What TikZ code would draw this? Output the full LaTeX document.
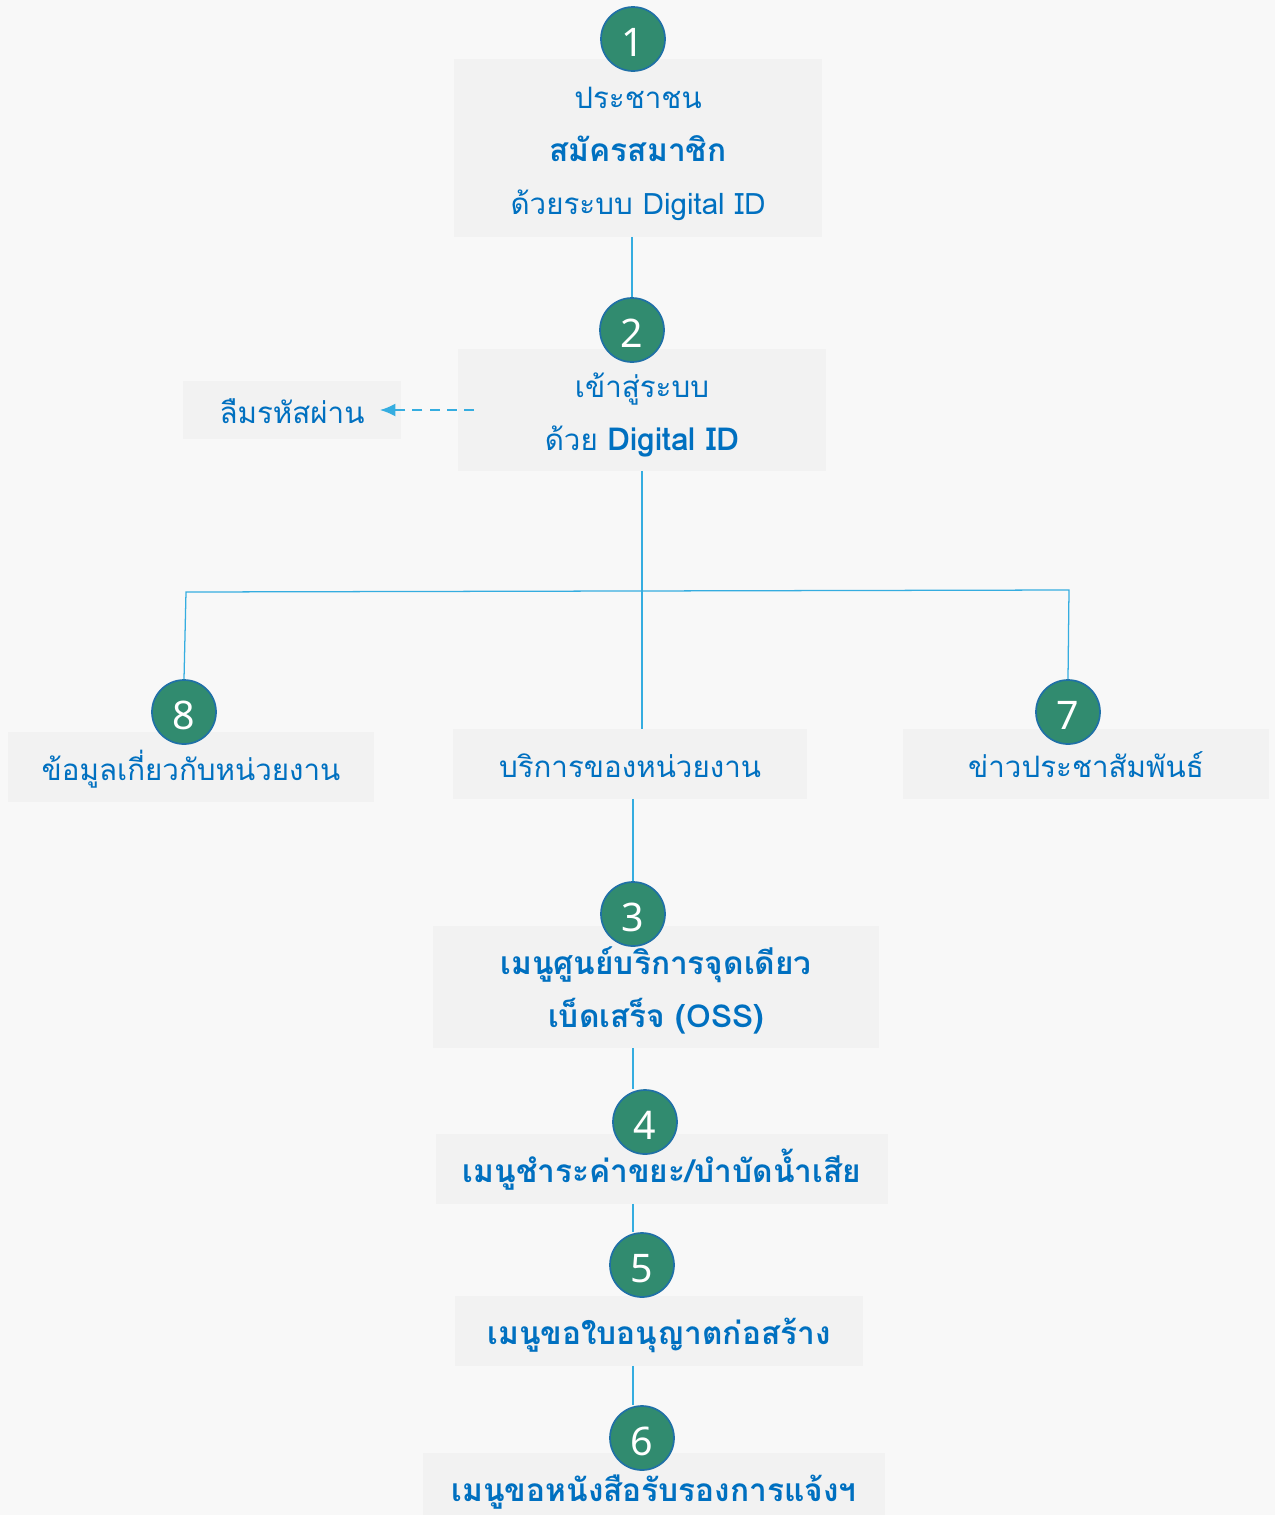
\documentclass[tikz,border=0pt]{standalone}
\usepackage{fontspec}
\newfontfamily\thaifont[Script=Thai]{Loma}
\newfontfamily\numfont{Noto Sans}
\usetikzlibrary{arrows.meta,positioning}
\definecolor{pagebg}{HTML}{F8F8F8}
\definecolor{boxgray}{HTML}{F2F2F2}
\definecolor{txtblue}{HTML}{0070C0}
\definecolor{linkblue}{HTML}{35ADE0}
\definecolor{numgreen}{HTML}{318B6F}
\definecolor{numedge}{HTML}{1F70A6}
\newcommand{\heavy}[1]{{\fontsize{22.5}{37.7}\selectfont\bfseries #1}}
\tikzset{
    >={Latex[length=3.8mm,width=3.2mm]},
    stepbox/.style={fill=boxgray,inner sep=0pt,text=txtblue,align=center,
        text height=22pt,text depth=2.8pt,
        font=\thaifont\fontsize{21}{37.7}\selectfont},
    num/.style={circle,fill=numgreen,draw=numedge,line width=1.2pt,minimum size=1.6cm,
        inner sep=0pt,text=white,text height=25pt,text depth=0pt,
        font=\numfont\fontsize{28}{30}\selectfont},
    link/.style={draw=linkblue,line width=0.9pt}
}
\begin{document}
\begin{tikzpicture}[x=0.025cm,y=-0.025cm]
    % page
    \fill[pagebg] (0,0) rectangle (1275,1515);
    \useasboundingbox (0,0) rectangle (1275,1515);

    % boxes
    \node[stepbox,minimum width=9.18cm,minimum height=4.43cm,text height=97.4pt] (reg) at (638,148)
        {ประชาชน\\\heavy{สมัครสมาชิก}\\ด้วยระบบ Digital ID};
    \node[stepbox,minimum width=9.18cm,minimum height=3.05cm,text height=59.7pt] (login) at (642,410)
        {เข้าสู่ระบบ\\ด้วย \heavy{Digital ID}};
    \node[stepbox,minimum width=5.45cm,minimum height=1.45cm] (forgot) at (292,410) {ลืมรหัสผ่าน};
    \node[stepbox,minimum width=9.15cm,minimum height=1.73cm] (about) at (191,767) {ข้อมูลเกี่ยวกับหน่วยงาน};
    \node[stepbox,minimum width=8.83cm,minimum height=1.73cm] (svc) at (630,764) {บริการของหน่วยงาน};
    \node[stepbox,minimum width=9.15cm,minimum height=1.73cm] (news) at (1086,764) {ข่าวประชาสัมพันธ์};
    \node[stepbox,minimum width=11.13cm,minimum height=3.05cm,text height=59.7pt] (oss) at (656,987)
        {\heavy{เมนูศูนย์บริการจุดเดียว}\\\heavy{เบ็ดเสร็จ (OSS)}};
    \node[stepbox,minimum width=11.28cm,minimum height=1.73cm] (fee) at (662,1169) {\heavy{เมนูชำระค่าขยะ/บำบัดน้ำเสีย}};
    \node[stepbox,minimum width=10.18cm,minimum height=1.73cm] (permit) at (659,1331) {\heavy{เมนูขอใบอนุญาตก่อสร้าง}};
    \node[stepbox,minimum width=11.55cm,minimum height=1.73cm] (cert) at (654,1488) {\heavy{เมนูขอหนังสือรับรองการแจ้งฯ}};

    % numbers
    \node[num] (c1) at (633,39) {1};
    \node[num] (c2) at (632,330) {2};
    \node[num] (c8) at (184,712) {8};
    \node[num] (c7) at (1068,712) {7};
    \node[num] (c3) at (633,914) {3};
    \node[num] (c4) at (645,1122) {4};
    \node[num] (c5) at (642,1265) {5};
    \node[num] (c6) at (642,1438) {6};

    % connectors
    \coordinate (jl) at (186,592);
    \coordinate (jr) at (1069,590);
    \draw[link] (c2 |- reg.south) -- (c2.north);
    \draw[link] (login.south) -- (login.south |- svc.north);
    \draw[link] (c8.north) -- (jl) -- (jr) -- (c7.north);
    \draw[link] (c3 |- svc.south) -- (c3.north);
    \draw[link] (oss.south -| c3) -- (c4.north -| c3);
    \draw[link] (fee.south -| c3) -- (c5.north -| c3);
    \draw[link] (permit.south -| c3) -- (c6.north -| c3);
    \draw[link,dashed,dash pattern=on 0.25cm off 0.18cm,->] ([xshift=0.4cm]login.west) -- ([xshift=-0.53cm]forgot.east);
\end{tikzpicture}
\end{document}
